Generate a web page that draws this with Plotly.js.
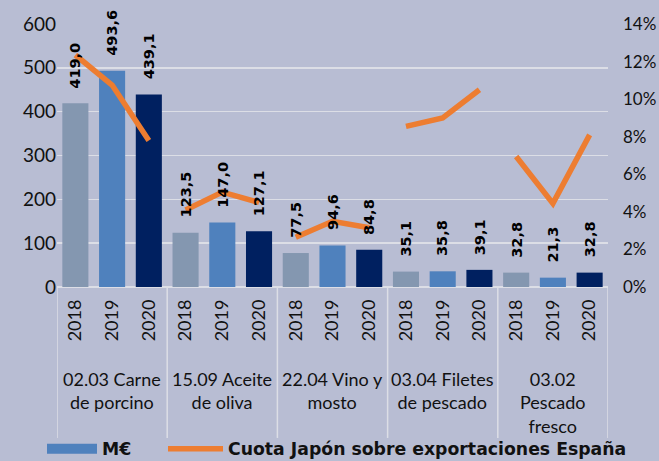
<!DOCTYPE html>
<html><head><meta charset="utf-8">
<script src="https://cdn.plot.ly/plotly-3.0.1.min.js"></script>
<style>html,body{margin:0;padding:0;background:#B8BDD3;}</style>
</head><body><div id="chart" style="width:659px;height:461px;"></div>
<script>
// ---- data ----
const productos = ['02.03 Carne<br>de porcino', '15.09 Aceite<br>de oliva', '22.04 Vino y<br>mosto', '03.04 Filetes<br>de pescado', '03.02<br>Pescado<br>fresco'];
const anios = ['2018', '2019', '2020'];
const valores2018 = [419.0, 123.5, 77.5, 35.1, 32.8];
const valores2019 = [493.6, 147.0, 94.6, 35.8, 21.3];
const valores2020 = [439.1, 127.1, 84.8, 39.1, 32.8];
const cuota2018 = [12.35, 4.1, 2.65, 8.55, 6.95];
const cuota2019 = [10.75, 5.05, 3.5, 9.0, 4.45];
const cuota2020 = [7.8, 4.5, 3.15, 10.5, 8.1];
const coloresAnio = ['#8497B0', '#4F81BD', '#002060'];

const FONT = 'Lato, "Open Sans", sans-serif';
const BOLDFONT = '"DejaVu Sans", Lato, sans-serif';
const valores = [valores2018, valores2019, valores2020];
const cuotas = [cuota2018, cuota2019, cuota2020];

const xb = [], yb = [], cb = [], tickvals = [], ticktext = [];
const xl = [], yl = [];
const annotations = [], shapes = [];
productos.forEach((p, g) => {
  anios.forEach((a, k) => {
    const i = g * 3 + k;
    xb.push(i); yb.push(valores[k][g]); cb.push(coloresAnio[k]);
    tickvals.push(i); ticktext.push(a);
    xl.push(i); yl.push(cuotas[k][g]);
    annotations.push({
      x: i, y: valores[k][g], xref: 'x', yref: 'y',
      text: valores[k][g].toFixed(1).replace('.', ','),
      textangle: -90, showarrow: false, yanchor: 'bottom', xanchor: 'center', yshift: 13,
      font: {family: BOLDFONT, size: 14.5, color: '#000', weight: 'bold'}
    });
  });
  xl.push(g * 3 + 2.5); yl.push(null);
  annotations.push({
    x: g * 3 + 1, y: -0.30, xref: 'x', yref: 'paper', text: p, showarrow: false,
    yanchor: 'top', xanchor: 'center', align: 'center',
    font: {family: FONT, size: 18, color: '#111'}
  });
});
for (let g = 0; g <= productos.length; g++) {
  shapes.push({type: 'line', xref: 'x', yref: 'paper', x0: g * 3 - 0.5, x1: g * 3 - 0.5, y0: 0, y1: -0.574,
    line: {color: '#DCDEE6', width: 1.5}, layer: 'below'});
}

const traces = [
  {type: 'bar', x: xb, y: yb, marker: {color: cb}, width: 0.71, showlegend: false, hoverinfo: 'skip'},
  {type: 'scatter', mode: 'lines', x: xb, y: xb.map(() => null), name: 'M€', legend: 'legend',
   line: {color: '#4F81BD', width: 12}, showlegend: true, hoverinfo: 'skip'},
  {type: 'scatter', mode: 'lines', x: xl, y: yl, yaxis: 'y2', name: 'Cuota Japón sobre exportaciones España',
   legend: 'legend2', showlegend: true,
   line: {color: '#ED7D31', width: 5.5}, connectgaps: false, hoverinfo: 'skip'}
];

const legendFont = {family: BOLDFONT, size: 17.3, color: '#111', weight: 'bold'};
const layout = {
  width: 659, height: 461,
  margin: {l: 57, r: 51, t: 24, b: 174, autoexpand: false},
  paper_bgcolor: '#B8BDD3', plot_bgcolor: '#B8BDD3',
  font: {family: FONT, color: '#111'},
  xaxis: {range: [-0.5, 14.5], tickmode: 'array', tickvals: tickvals, ticktext: ticktext, tickangle: -90,
    tickfont: {family: FONT, size: 18, color: '#111'}, showgrid: false, zeroline: false, showline: false,
    ticks: '', ticklabelstandoff: 8, fixedrange: true},
  yaxis: {range: [0, 600], dtick: 100, tick0: 0, gridcolor: '#DCDEE6', gridwidth: 1.5, zeroline: true,
    zerolinecolor: '#DCDEE6', zerolinewidth: 1.5, showline: false, ticks: '',
    tickfont: {family: FONT, size: 19, color: '#111'}},
  yaxis2: {overlaying: 'y', side: 'right', range: [0, 14], dtick: 2, tick0: 0, ticksuffix: '%',
    showgrid: false, zeroline: false, showline: false, ticks: '', ticklabelstandoff: 14,
    tickfont: {family: FONT, size: 17, color: '#111'}},
  legend: {orientation: 'h', xref: 'container', yref: 'container', x: 42 / 659, xanchor: 'left',
    y: 12 / 461, yanchor: 'middle', itemwidth: 50,
    bgcolor: 'rgba(0,0,0,0)', font: legendFont},
  legend2: {orientation: 'h', xref: 'container', yref: 'container', x: 163 / 659, xanchor: 'left',
    y: 12 / 461, yanchor: 'middle', itemwidth: 55,
    bgcolor: 'rgba(0,0,0,0)', font: legendFont},
  annotations: annotations,
  shapes: shapes,
  separators: ',.'
};

Plotly.newPlot('chart', traces, layout, {displayModeBar: false, staticPlot: true});
</script>
</body></html>
